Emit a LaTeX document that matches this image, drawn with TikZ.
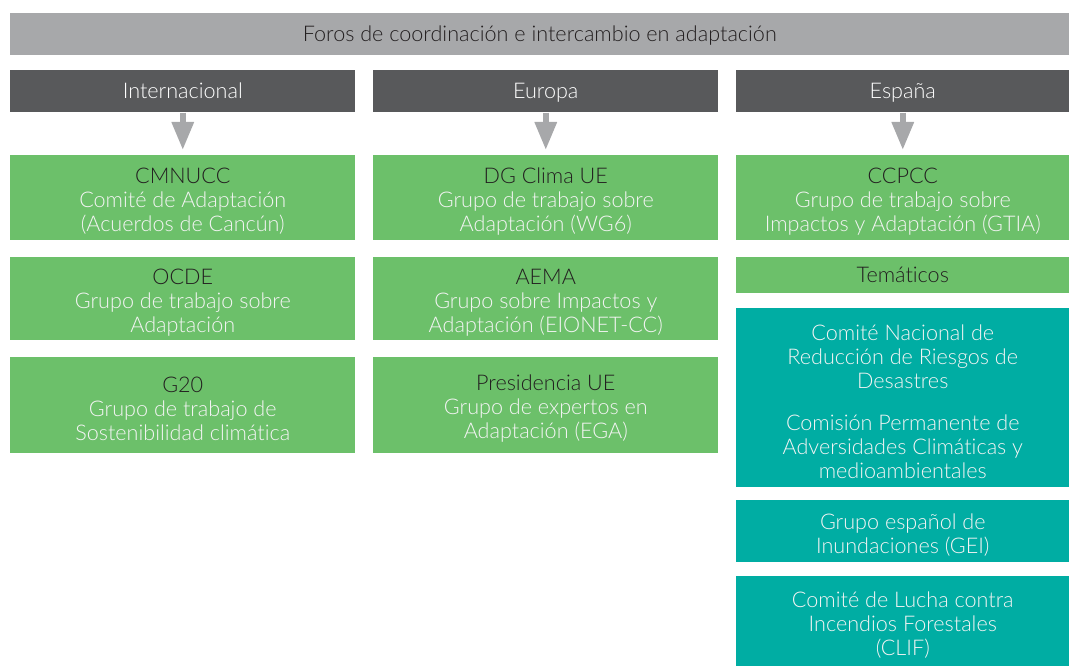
\documentclass[tikz,border=0pt]{standalone}
\usepackage{fontspec}
\setmainfont{Lato}[UprightFont={* Light}, Ligatures=NoCommon]
\usetikzlibrary{arrows.meta}
\definecolor{topgray}{HTML}{A7A8AA}
\definecolor{headgray}{HTML}{58595B}
\definecolor{boxgreen}{HTML}{6CC06A}
\definecolor{boxteal}{HTML}{00ADA3}
\definecolor{titlec}{HTML}{231F20}
\definecolor{subc}{HTML}{F4F4F4}
\newcommand\myfirststrut{\rule{0pt}{17pt}}
\begin{document}
\begin{tikzpicture}[x=0.75pt,y=-0.75pt,
  base/.style={rectangle, inner sep=0pt, anchor=north west, align=center,
    font=\fontsize{16.2}{18}\selectfont},
  oneline/.style={text height=13pt, text depth=1.5pt},
  topbar/.style={base, oneline, fill=topgray, text=titlec, minimum width=794.25pt, minimum height=31.5pt},
  head/.style={base, oneline, fill=headgray, text=white, minimum height=31.5pt},
  gbox/.style={base, fill=boxgreen, text=subc},
  tbox/.style={base, fill=boxteal, text=subc},
  downarrow/.style={draw=topgray, line width=4.5pt, -{Triangle[width=15.75pt,length=21pt]}}
]
\useasboundingbox (0,0) rectangle (1069,666);
% top bar
\node[topbar] (top) at (10,13) {Foros de coordinación e intercambio en adaptación};
% headers
\node[head, minimum width=258.75pt] (h1) at (10,70) {Internacional};
\node[head, minimum width=258.75pt] (h2) at (373,70) {Europa};
\node[head, minimum width=249.75pt] (h3) at (736,70) {España};
% column 1
\node[gbox, minimum width=258.75pt, minimum height=63.75pt] (a1) at (10,155)
  {\myfirststrut\textcolor{titlec}{CMNUCC}\\Comité de Adaptación\\(Acuerdos de Cancún)};
\node[gbox, minimum width=258.75pt, minimum height=62.25pt] (a2) at (10,257)
  {\myfirststrut\textcolor{titlec}{OCDE}\\Grupo de trabajo sobre\\Adaptación};
\node[gbox, minimum width=258.75pt, minimum height=72pt] (a3) at (10,357)
  {\myfirststrut\textcolor{titlec}{G20}\\Grupo de trabajo de\\Sostenibilidad climática};
% column 2
\node[gbox, minimum width=258.75pt, minimum height=63.75pt] (b1) at (373,155)
  {\myfirststrut\textcolor{titlec}{DG Clima UE}\\Grupo de trabajo sobre\\Adaptación (WG6)};
\node[gbox, minimum width=258.75pt, minimum height=62.25pt] (b2) at (373,257)
  {\myfirststrut\textcolor{titlec}{AEMA}\\Grupo sobre Impactos y\\Adaptación (EIONET-CC)};
\node[gbox, minimum width=258.75pt, minimum height=72pt] (b3) at (373,357)
  {\myfirststrut\textcolor{titlec}{Presidencia UE}\\Grupo de expertos en\\Adaptación (EGA)};
% column 3
\node[gbox, text=titlec, minimum width=249.75pt, minimum height=63.75pt] (c1) at (736,155)
  {\myfirststrut CCPCC\\\textcolor{subc}{Grupo de trabajo sobre}\\\textcolor{subc}{Impactos y Adaptación (GTIA)}};
\node[base, oneline, fill=boxgreen, text=titlec, minimum width=249.75pt, minimum height=27pt] (c2) at (736,257)
  {Temáticos};
\node[tbox, minimum width=249.75pt, minimum height=134.25pt] (c3) at (736,308)
  {\myfirststrut Comité Nacional de\\Reducción de Riesgos de\\Desastres\\[13.5pt]Comisión Permanente de\\Adversidades Climáticas y\\medioambientales};
\node[tbox, minimum width=249.75pt, minimum height=46.5pt] (c4) at (736,500)
  {\myfirststrut Grupo español de\\Inundaciones (GEI)};
\node[tbox, minimum width=249.75pt, minimum height=67.5pt] (c5) at (736,576)
  {\myfirststrut Comité de Lucha contra\\Incendios Forestales\\(CLIF)};
% arrows
\draw[downarrow] (h1.south) -- ([yshift=3.75pt]a1.north);
\draw[downarrow] (h2.south) -- ([yshift=3.75pt]b1.north);
\draw[downarrow] (h3.south) -- ([yshift=3.75pt]c1.north);
\end{tikzpicture}
\end{document}
